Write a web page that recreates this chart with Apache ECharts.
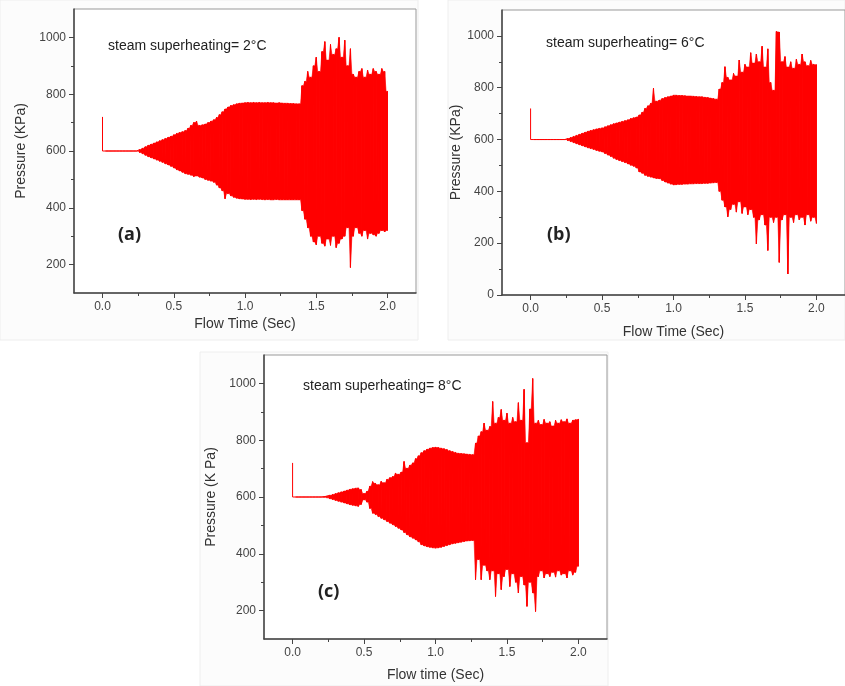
<!DOCTYPE html>
<html><head><meta charset="utf-8">
<script src="https://cdn.jsdelivr.net/npm/echarts@6/dist/echarts.min.js"></script>
<style>html,body{margin:0;padding:0;background:#fff}#c{width:845px;height:686px}</style>
</head><body><div id="c"></div>
<script>
// Flow time samples (s)
const T = [
0.00,0.02,0.04,0.06,0.08,0.10,0.12,0.14,0.16,0.18,
0.20,0.22,0.24,0.26,0.28,0.30,0.32,0.34,0.36,0.38,
0.40,0.42,0.44,0.46,0.48,0.50,0.52,0.54,0.56,0.58,
0.60,0.62,0.64,0.66,0.68,0.70,0.72,0.74,0.76,0.78,
0.80,0.82,0.84,0.86,0.88,0.90,0.92,0.94,0.96,0.98,
1.00,1.02,1.04,1.06,1.08,1.10,1.12,1.14,1.16,1.18,
1.20,1.22,1.24,1.26,1.28,1.30,1.32,1.34,1.36,1.38,
1.40,1.42,1.44,1.46,1.48,1.50,1.52,1.54,1.56,1.58,
1.60,1.62,1.64,1.66,1.68,1.70,1.72,1.74,1.76,1.78,
1.80,1.82,1.84,1.86,1.88,1.90,1.92,1.94,1.96,1.98,
2.00];

// (a) superheating 2 °C : upper / lower pressure peaks (KPa)
const upperA = [
720,600,600,600,600,600,600,600,600,600,
600,600,600,605,610,615,620,624,628,632,
636,640,644,648,652,657,662,665,668,672,
680,690,700,705,690,692,695,700,705,710,
718,728,738,748,755,760,763,766,768,769,
770,771,770,771,770,771,770,770,771,770,
770,769,770,769,768,768,767,767,766,766,
830,845,880,860,900,930,880,950,985,920,
975,940,960,1000,930,990,900,960,870,860,
880,890,860,885,870,890,880,870,890,880,
810];
const lowerA = [
600,600,600,600,600,600,600,600,600,600,
600,600,600,595,590,585,580,576,572,568,
564,560,555,551,546,540,534,530,525,520,
518,515,510,512,508,505,500,497,494,490,
480,470,460,432,450,442,437,434,432,431,
430,430,429,430,429,430,429,428,429,428,
428,429,428,428,428,428,428,428,428,428,
390,360,330,300,280,270,300,275,265,290,
268,300,260,275,290,300,330,190,300,330,
310,300,320,290,310,305,300,310,320,315,
320];

// (b) superheating 6 °C
const upperB = [
720,600,600,600,600,600,600,600,600,600,
600,600,600,604,608,612,616,620,624,628,
632,635,638,641,643,645,649,653,657,661,
664,667,670,673,676,681,684,687,695,705,
720,730,740,798,748,752,758,762,765,768,
771,771,770,770,769,768,768,767,766,765,
765,763,762,760,758,756,795,820,881,840,
830,855,845,907,860,890,880,935,895,930,
900,960,880,950,820,790,1017,1015,900,920,
880,900,875,910,890,930,900,885,905,890,
889];
const lowerB = [
600,600,600,600,600,600,600,600,600,600,
600,600,600,596,592,588,584,580,576,572,
568,565,562,558,555,552,546,540,535,528,
523,519,515,511,506,501,497,490,475,470,
462,458,455,452,450,449,442,436,432,428,
425,426,427,427,428,428,429,429,430,430,
430,431,431,432,433,434,400,366,340,302,
330,350,320,360,315,340,310,330,300,197,
290,310,270,172,300,280,300,126,290,310,
81,300,280,310,290,300,270,310,285,300,
276];

// (c) superheating 8 °C
const upperC = [
720,600,600,600,600,600,600,600,600,600,
600,601,603,606,609,612,615,618,621,624,
627,629,631,632,626,612,620,638,654,648,
643,655,650,662,668,672,684,680,688,725,
701,712,720,735,745,756,763,768,772,774,
775,774,772,770,767,763,760,757,754,753,
752,751,750,749,790,815,830,860,835,848,
936,860,880,908,870,895,860,880,865,932,
870,979,791,910,1017,860,870,855,873,860,
865,850,870,860,872,865,875,860,870,872,
874];
const lowerC = [
600,600,600,600,600,600,600,600,600,600,
600,599,597,594,591,588,585,582,579,576,
573,571,569,567,574,590,582,560,543,538,
531,525,520,514,508,502,496,490,484,475,
467,460,455,449,442,432,428,425,423,421,
420,421,423,426,429,432,435,437,439,441,
443,445,446,447,309,380,309,360,340,309,
340,250,330,274,320,345,285,330,300,262,
320,290,215,300,262,197,320,340,315,330,
320,335,318,340,325,330,315,340,325,335,
356];

// Tick values
const xTicks = [0, 0.5, 1.0, 1.5, 2.0];
const xMinor = [0.25, 0.75, 1.25, 1.75];
const yTicksA = [200, 400, 600, 800, 1000];
const yMinorA = [300, 500, 700, 900];
const yTicksB = [0, 200, 400, 600, 800, 1000];
const yMinorB = [100, 300, 500, 700, 900];
const yTicksC = [200, 400, 600, 800, 1000];
const yMinorC = [300, 500, 700, 900];

// Texts
const titles = ['steam superheating= 2°C', 'steam superheating= 6°C', 'steam superheating= 8°C'];
const tags = ['(a)', '(b)', '(c)'];
const yNames = ['Pressure (KPa)', 'Pressure (KPa)', 'Pressure (K Pa)'];
const xNames = ['Flow Time (Sec)', 'Flow Time (Sec)', 'Flow time (Sec)'];

const panels = [
  {up: upperA, lo: lowerA, yt: yTicksA, ym: yMinorA, ymin: 100, ymax: 1100,
   grid: {left: 74, top: 9, width: 342, height: 284}, yGap: 46, xGap: 24,
   title: [108, 39], tag: [118, 226]},
  {up: upperB, lo: lowerB, yt: yTicksB, ym: yMinorB, ymin: 0, ymax: 1100,
   grid: {left: 502, top: 10, width: 354, height: 285}, yGap: 32, xGap: 30,
   title: [546, 36], tag: [547, 226]},
  {up: upperC, lo: lowerC, yt: yTicksC, ym: yMinorC, ymin: 100, ymax: 1100,
   grid: {left: 264, top: 355, width: 343, height: 284}, yGap: 46, xGap: 29,
   title: [303, 379], tag: [318, 583]}
];

const FONT = 'Liberation Sans, Arial, sans-serif';
const AX = '#444';
const RED = '#ff0000';
const grids = [], xAxes = [], yAxes = [], series = [], graphics = [];

// faint panel frames
[[0,0,418,340],[448,0,397,340],[200,352,408,334]].forEach(r => {
  graphics.push({type: 'rect', z: -10, shape: {x: r[0], y: r[1], width: r[2], height: r[3]},
    style: {fill: '#fcfcfc', stroke: '#eeeeee', lineWidth: 1}, silent: true});
});

// filled core between two consecutive peak samples, notched at the midpoint
function renderBand(params, api) {
  const t0 = api.value(0), t1 = api.value(3), tm = (t0 + t1) / 2;
  const u0 = api.value(1), u1 = api.value(4), l0 = api.value(2), l1 = api.value(5);
  const pts = [
    api.coord([t0, u0]), api.coord([tm, Math.min(u0, u1)]), api.coord([t1, u1]),
    api.coord([t1, l1]), api.coord([tm, Math.max(l0, l1)]), api.coord([t0, l0])
  ];
  return {
    type: 'polygon',
    shape: {points: pts},
    style: {fill: RED, stroke: RED, lineWidth: 0.6},
    silent: true
  };
}

panels.forEach((p, k) => {
  grids.push(Object.assign({show: true, borderColor: '#999', borderWidth: 1, backgroundColor: '#fff'}, p.grid));
  xAxes.push({
    type: 'value', gridIndex: k, min: -0.2, max: 2.2, position: 'bottom',
    name: xNames[k], nameLocation: 'middle', nameGap: p.xGap,
    nameTextStyle: {fontFamily: FONT, fontSize: 14, color: '#333'},
    axisLine: {show: true, onZero: false, lineStyle: {color: AX, width: 1.5}},
    axisTick: {show: true, customValues: xTicks, length: 5, lineStyle: {color: AX}},
    axisLabel: {customValues: xTicks, formatter: v => v.toFixed(1), fontFamily: FONT, fontSize: 12, color: '#444', margin: 8},
    splitLine: {show: false}
  });
  xAxes.push({
    type: 'value', gridIndex: k, min: -0.2, max: 2.2, position: 'bottom',
    axisLine: {show: false, onZero: false},
    axisTick: {show: true, customValues: xMinor, length: 3, lineStyle: {color: AX}},
    axisLabel: {show: false}, splitLine: {show: false}
  });
  yAxes.push({
    type: 'value', gridIndex: k, min: p.ymin, max: p.ymax, position: 'left',
    name: yNames[k], nameLocation: 'middle', nameGap: p.yGap,
    nameTextStyle: {fontFamily: FONT, fontSize: 14, color: '#333'},
    axisLine: {show: true, onZero: false, lineStyle: {color: AX, width: 1.5}},
    axisTick: {show: true, customValues: p.yt, length: 5, lineStyle: {color: AX}},
    axisLabel: {customValues: p.yt, formatter: v => String(v), fontFamily: FONT, fontSize: 12, color: '#444', margin: 8},
    splitLine: {show: false}
  });
  yAxes.push({
    type: 'value', gridIndex: k, min: p.ymin, max: p.ymax, position: 'left',
    axisLine: {show: false, onZero: false},
    axisTick: {show: true, customValues: p.ym, length: 3, lineStyle: {color: AX}},
    axisLabel: {show: false}, splitLine: {show: false}
  });
  const segs = [], zig = [];
  for (let i = 0; i < T.length; i++) {
    // first sample is the start-up spike: trace only, no band
    if (i >= 1 && i < T.length - 1) segs.push([T[i], p.up[i], p.lo[i], T[i + 1], p.up[i + 1], p.lo[i + 1]]);
    zig.push([T[i], p.up[i]]);
    zig.push([T[i], p.lo[i]]);
  }
  series.push({
    type: 'custom', xAxisIndex: 2 * k, yAxisIndex: 2 * k, data: segs,
    renderItem: renderBand, clip: true, animation: false,
    encode: {x: [0, 3], y: [1, 2, 4, 5]}, z: 2
  });
  series.push({
    type: 'line', xAxisIndex: 2 * k, yAxisIndex: 2 * k, data: zig,
    symbol: 'none', sampling: null, clip: true, animation: false,
    lineStyle: {color: RED, width: 1}, z: 3
  });
  graphics.push({type: 'text', left: p.title[0], top: p.title[1], z: 10,
    style: {text: titles[k], fontFamily: FONT, fontSize: 14, fill: '#222'}});
  graphics.push({type: 'text', left: p.tag[0], top: p.tag[1], z: 10,
    style: {text: tags[k], fontFamily: 'Open Sans, sans-serif', fontWeight: 'bold', fontSize: 18, fill: '#222'}});
});

const chart = echarts.init(document.getElementById('c'), null, {renderer: 'canvas'});
chart.setOption({
  animation: false,
  backgroundColor: '#ffffff',
  grid: grids, xAxis: xAxes, yAxis: yAxes, series: series, graphic: graphics
});
</script></body></html>
